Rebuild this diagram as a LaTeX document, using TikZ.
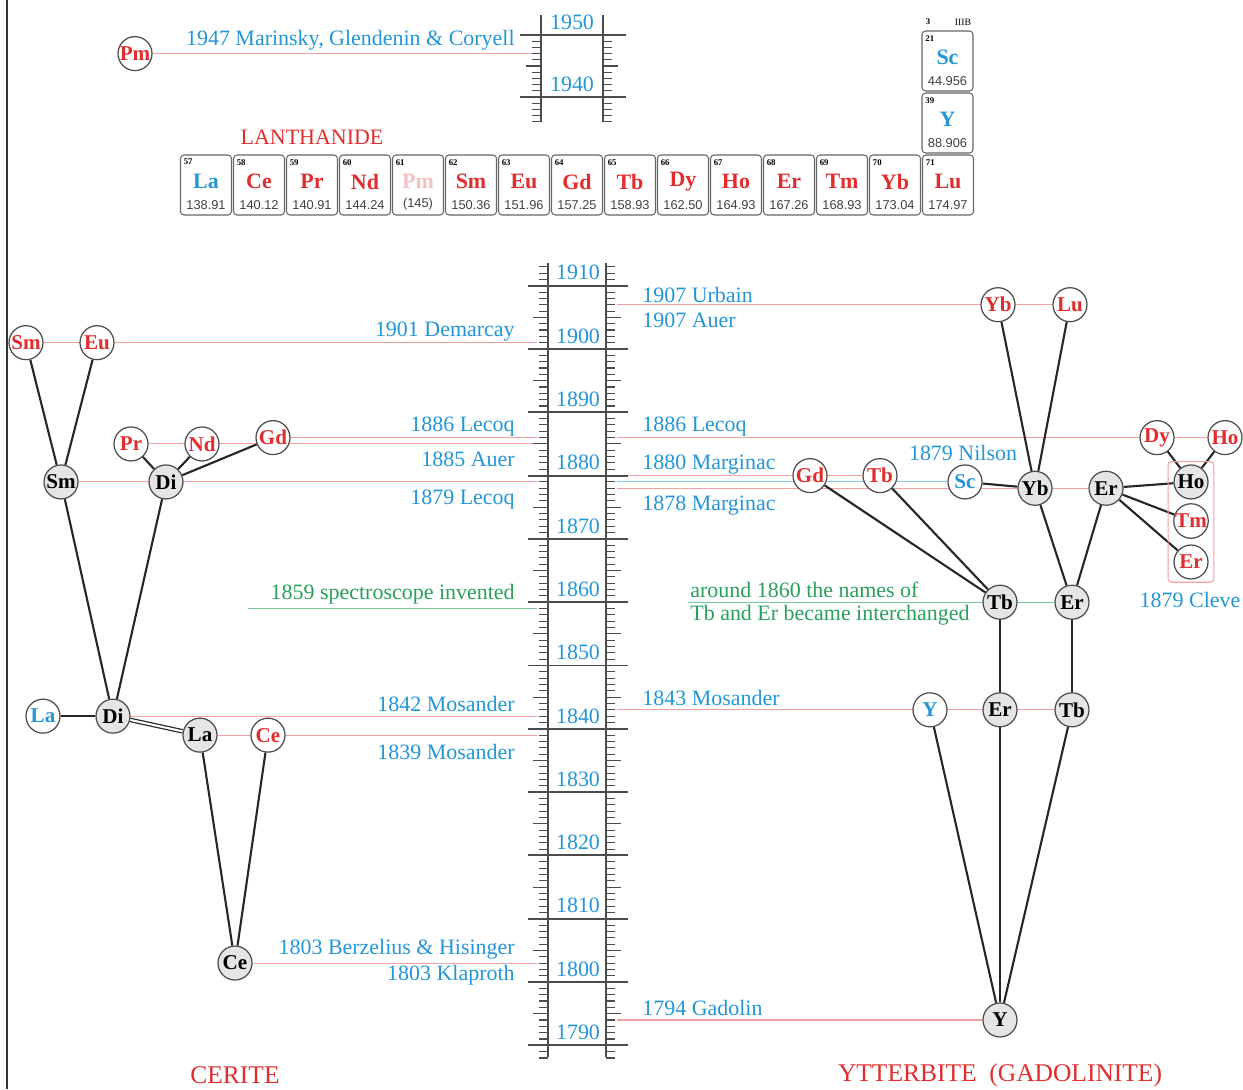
\documentclass[tikz,border=0pt]{standalone}
\usepackage{fontspec}
\setmainfont{Liberation Serif}
\newfontfamily\wtfont{Liberation Sans}
\usetikzlibrary{backgrounds,fit}

\definecolor{yrblue}{RGB}{35,150,215}
\definecolor{elred}{RGB}{225,45,45}
\definecolor{dateline}{RGB}{244,160,160}
\definecolor{nilson}{RGB}{140,195,230}
\definecolor{notegreen}{RGB}{40,160,90}
\definecolor{noteline}{RGB}{120,200,150}

\begin{document}
\begin{tikzpicture}[
    x=0.02cm, y=-0.02cm,
    font=\fontsize{12.5}{14}\selectfont,
    declare function={yr(\t)=982-(\t-1800)*6.33; yup(\t)=35+(1950-\t)*6.2;},
    el/.style={circle, draw=black!70, line width=0.7pt, fill=white,
               minimum size=0.68cm, inner sep=0pt,
               font=\fontsize{12}{12}\selectfont\bfseries},
    mix/.style={el, fill=black!10, text=black},
    tree/.style={line width=1.2pt, black!85},
    date/.style={dateline, line width=0.6pt},
    lbl/.style={text=yrblue, inner sep=0pt},
    note/.style={text=notegreen, inner sep=0pt},
    title/.style={text=elred, inner sep=0pt, font=\fontsize{14.5}{16}\selectfont},
    axis/.style={black!70, line width=1.1pt},
    tick/.style={black!70, line width=0.6pt},
    elbox/.style={draw=black!60, rounded corners=2pt, line width=0.6pt,
                  minimum width=1.02cm, minimum height=1.2cm, inner sep=0pt},
    elnum/.style={inner sep=0pt, font=\fontsize{5}{5}\selectfont\bfseries},
    elsym/.style={inner sep=0pt, font=\fontsize{12.5}{13}\selectfont\bfseries},
    elwt/.style={inner sep=0pt, text=black!75, font=\wtfont\fontsize{7.3}{8}\selectfont},
  ]
  \useasboundingbox (0,0) rectangle (1243,1089);
  \draw[black!80, line width=0.8pt] (7,0) -- (7,1089);

  % upper time scale (1940--1950)
  \draw[axis] (541,15) -- (541,122) (603,15) -- (603,122);
  \foreach \n in {1936,...,1950} {
    \pgfmathsetmacro\yy{yup(\n)}
    \pgfmathtruncatemacro\ten{mod(\n,10)}
    \pgfmathtruncatemacro\five{mod(\n,5)}
    \ifnum\ten=0
      \draw[axis] (520,\yy) -- (626,\yy);
      \node[lbl] (u\n) at (572,\yy-13) {\n};
    \else\ifnum\five=0
      \draw[tick] (526,\yy) -- (541,\yy) (603,\yy) -- (618,\yy);
    \else
      \draw[tick] (532,\yy) -- (541,\yy) (603,\yy) -- (612,\yy);
    \fi\fi
  }

  % lower time scale (1790--1910)
  \draw[axis] (548,263) -- (548,1057) (606,263) -- (606,1057);
  \foreach \n in {1788,...,1913} {
    \pgfmathsetmacro\yy{yr(\n)}
    \pgfmathtruncatemacro\ten{mod(\n,10)}
    \pgfmathtruncatemacro\five{mod(\n,5)}
    \ifnum\ten=0
      \draw[axis] (528,\yy) -- (628,\yy);
      \node[lbl] (y\n) at (578,\yy-13) {\n};
    \else\ifnum\five=0
      \draw[tick] (533,\yy) -- (548,\yy) (606,\yy) -- (621,\yy);
    \else
      \draw[tick] (539,\yy) -- (548,\yy) (606,\yy) -- (615,\yy);
    \fi\fi
  }

  % periodic table: lanthanide row and group 3
  \node[text=elred, inner sep=0pt] (lanth) at (312,137) {LANTHANIDE};
  \foreach \i/\z/\s/\w/\c in {0/57/La/138.91/yrblue, 1/58/Ce/140.12/elred,
      2/59/Pr/140.91/elred, 3/60/Nd/144.24/elred, 4/61/Pm/(145)/elred!30,
      5/62/Sm/150.36/elred, 6/63/Eu/151.96/elred, 7/64/Gd/157.25/elred,
      8/65/Tb/158.93/elred, 9/66/Dy/162.50/elred, 10/67/Ho/164.93/elred,
      11/68/Er/167.26/elred, 12/69/Tm/168.93/elred, 13/70/Yb/173.04/elred,
      14/71/Lu/174.97/elred} {
    \node[elbox] (pt\z) at ({206+53*\i},185) {};
    \node[elnum, anchor=north west] (pt\z-n) at ([xshift=2pt,yshift=-2.5pt]pt\z.north west) {\z};
    \node[elsym, text=\c] (pt\z-s) at ([yshift=2pt]pt\z.center) {\s};
    \node[elwt, anchor=south] (pt\z-w) at ([yshift=3pt]pt\z.south) {\w};
  }
  \foreach \z/\s/\w/\yc in {21/Sc/44.956/61, 39/Y/88.906/123} {
    \node[elbox] (pt\z) at (947.5,\yc) {};
    \node[elnum, anchor=north west] (pt\z-n) at ([xshift=2pt,yshift=-2.5pt]pt\z.north west) {\z};
    \node[elsym, text=yrblue] (pt\z-s) at ([yshift=2pt]pt\z.center) {\s};
    \node[elwt, anchor=south] (pt\z-w) at ([yshift=3pt]pt\z.south) {\w};
  }
  \node[elnum] (grp) at (928,22) {3};
  \node[elnum, font=\fontsize{5.5}{6}\selectfont] (grpname) at (963,22) {IIIB};

  % 1947 promethium
  \node[el, text=elred] (pm) at (135,{yup(1947)}) {Pm};
  \coordinate (u1947) at (532,{yup(1947)});
  \node[lbl, anchor=east] (t1947) at (515,40) {1947 Marinsky, Glendenin \& Coryell};

  % cerite branch
  \node[el, text=elred] (sm1) at (26,{yr(1901)}) {Sm};
  \node[el, text=elred] (eu) at (97,{yr(1901)}) {Eu};
  \node[el, text=elred] (pr) at (131,{yr(1885)}) {Pr};
  \node[el, text=elred] (nd) at (202,{yr(1885)}) {Nd};
  \node[el, text=elred] (gd1) at (273,{yr(1886)}) {Gd};
  \node[mix] (sm2) at (61,{yr(1879)}) {Sm};
  \node[mix] (di1) at (166,{yr(1879)}) {Di};
  \node[el, text=yrblue] (la1) at (43,{yr(1842)}) {La};
  \node[mix] (di2) at (113,{yr(1842)}) {Di};
  \node[mix] (la2) at (200,{yr(1839)}) {La};
  \node[el, text=elred] (ce1) at (268,{yr(1839)}) {Ce};
  \node[mix] (ce2) at (235,{yr(1803)}) {Ce};

  % ytterbite branch
  \node[el, text=elred] (yb1) at (998,{yr(1907)}) {Yb};
  \node[el, text=elred] (lu) at (1070,{yr(1907)}) {Lu};
  \node[el, text=elred] (dy) at (1157,{yr(1886)}) {Dy};
  \node[el, text=elred] (ho1) at (1225,{yr(1886)}) {Ho};
  \node[el, text=elred] (gd2) at (810,{yr(1880)}) {Gd};
  \node[el, text=elred] (tb1) at (880,{yr(1880)}) {Tb};
  \node[el, text=yrblue] (sc) at (965,{yr(1879)}) {Sc};
  \node[mix] (yb2) at (1035,{yr(1878)}) {Yb};
  \node[mix] (er1) at (1106,{yr(1878)}) {Er};
  \node[mix] (ho2) at (1191,{yr(1879)}) {Ho};
  \node[el, text=elred] (tm) at (1191,521) {Tm};
  \node[el, text=elred] (er2) at (1191,562) {Er};
  \node[mix] (tb2) at (1000,{yr(1860)}) {Tb};
  \node[mix] (er3) at (1072,{yr(1860)}) {Er};
  \node[el, text=yrblue] (y1) at (930,{yr(1843)}) {Y};
  \node[mix] (er4) at (1000,{yr(1843)}) {Er};
  \node[mix] (tb3) at (1072,{yr(1843)}) {Tb};
  \node[mix] (y2) at (1000,{yr(1794)}) {Y};
  \node[draw=dateline, rounded corners=2pt, line width=0.6pt, inner xsep=3pt,
        inner ysep=1.5pt, fit=(ho2)(er2)] (cleve) {};

  % labels of the discoveries
  \node[lbl, anchor=east] (t1901) at (515,332) {1901 Demarcay};
  \node[lbl, anchor=east] (t1886a) at (515,427) {1886 Lecoq};
  \node[lbl, anchor=east] (t1885) at (515,459) {1885 Auer};
  \node[lbl, anchor=east] (t1879a) at (515,500) {1879 Lecoq};
  \node[note, anchor=east] (t1859) at (515,594) {1859 spectroscope invented};
  \node[lbl, anchor=east] (t1842) at (515,704) {1842 Mosander};
  \node[lbl, anchor=east] (t1839) at (515,752) {1839 Mosander};
  \node[lbl, anchor=east] (t1803a) at (515,949) {1803 Berzelius \& Hisinger};
  \node[lbl, anchor=east] (t1803b) at (515,975) {1803 Klaproth};
  \node[lbl, anchor=west] (t1907a) at (642,295) {1907 Urbain};
  \node[lbl, anchor=west] (t1907b) at (642,320) {1907 Auer};
  \node[lbl, anchor=west] (t1886b) at (642,427) {1886 Lecoq};
  \node[lbl, anchor=west] (t1880) at (642,465) {1880 Marginac};
  \node[lbl, anchor=west] (t1878) at (642,506) {1878 Marginac};
  \node[lbl] (t1879b) at (963,453) {1879 Nilson};
  \node[lbl] (t1879c) at (1190,600) {1879 Cleve};
  \node[note, anchor=west] (t1860a) at (690,590) {around 1860 the names of};
  \node[note, anchor=west] (t1860b) at (690,615) {Tb and Er became interchanged};
  \node[lbl, anchor=west] (t1843) at (642,698) {1843 Mosander};
  \node[lbl, anchor=west] (t1794) at (642,1008) {1794 Gadolin};
  \node[title] (cerite) at (235,1075) {CERITE};
  \node[title] (ytter) at (1000,1075) {YTTERBITE\ \ (GADOLINITE)};

  % date lines and family tree
  \foreach \t in {1901,1886,1885,1879,1859,1842,1839,1803}
    \coordinate (l\t) at (537,{yr(\t)});
  \foreach \t in {1907,1886,1880,1879,1878,1843,1794}
    \coordinate (r\t) at (617,{yr(\t)});
  \coordinate (g1859) at (248,{yr(1859)});
  \coordinate (g1860) at (688,{yr(1860)});
  \begin{scope}[on background layer]
    \draw[date] (pm) -- (u1947);
    \draw[date] (sm1) -- (l1901);
    \draw[date] (gd1) -- (l1886);
    \draw[date] (pr) -- (l1885);
    \draw[date] (sm2) -- (l1879);
    \draw[noteline, line width=0.6pt] (g1859) -- (l1859);
    \draw[date] (la1) -- (l1842);
    \draw[date] (la2) -- (l1839);
    \draw[date] (ce2) -- (l1803);
    \draw[date] (r1907) -- (lu);
    \draw[date] (r1886) -- (ho1);
    \draw[date] (r1880) -- (tb1);
    \draw[nilson, line width=0.6pt] (r1879) -- (sc);
    \draw[date] (r1878) -- (er1);
    \draw[noteline, line width=0.6pt] (g1860) -- (er3);
    \draw[date] (r1843) -- (tb3);
    \draw[date] (r1794) -- (y2);
    % cerite
    \draw[tree] (sm2) -- (sm1);
    \draw[tree] (sm2) -- (eu);
    \draw[tree] (di1) -- (pr);
    \draw[tree] (di1) -- (nd);
    \draw[tree] (di1) -- (gd1);
    \draw[tree] (di2) -- (sm2);
    \draw[tree] (di2) -- (di1);
    \draw[tree] (la1) -- (di2);
    \draw[tree, line width=0.7pt, double, double distance=1.2pt] (di2) -- (la2);
    \draw[tree] (ce2) -- (la2);
    \draw[tree] (ce2) -- (ce1);
    % ytterbite
    \draw[tree] (yb2) -- (yb1);
    \draw[tree] (yb2) -- (lu);
    \draw[tree] (ho2) -- (dy);
    \draw[tree] (ho2) -- (ho1);
    \draw[tree] (tb2) -- (gd2);
    \draw[tree] (tb2) -- (tb1);
    \draw[tree] (sc) -- (yb2);
    \draw[tree] (er3) -- (yb2);
    \draw[tree] (er3) -- (er1);
    \draw[tree] (er1) -- (ho2);
    \draw[tree] (er1) -- (tm);
    \draw[tree] (er1) -- (er2);
    \draw[tree] (er4) -- (tb2);
    \draw[tree] (tb3) -- (er3);
    \draw[tree] (y2) -- (y1);
    \draw[tree] (y2) -- (er4);
    \draw[tree] (y2) -- (tb3);
  \end{scope}
\end{tikzpicture}
\end{document}
